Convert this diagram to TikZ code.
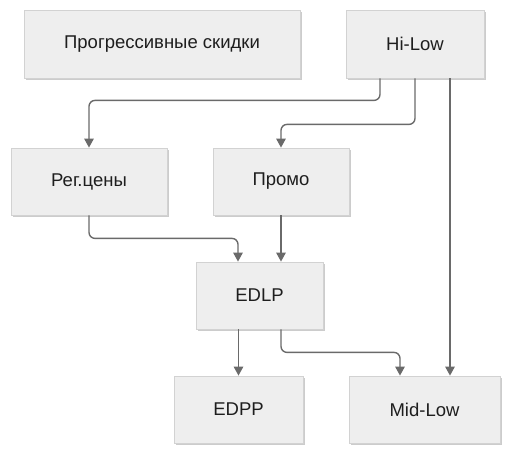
\documentclass[tikz,border=0pt]{standalone}
\usepackage{fontspec}
\setmainfont{Liberation Sans}
\usetikzlibrary{arrows.meta,shadows,calc}
\definecolor{boxfill}{HTML}{EEEEEE}
\definecolor{boxborder}{HTML}{D2D2D2}
\definecolor{lineclr}{HTML}{6A6A6A}
\definecolor{txt}{HTML}{1E1E1E}
\begin{document}
\begin{tikzpicture}[x=1pt,y=-1pt,
  box/.style={draw=boxborder,fill=boxfill,line width=0.8pt,inner sep=0pt,
    font=\fontsize{18.5}{22}\selectfont,text=txt,
    drop shadow={shadow xshift=1.5pt,shadow yshift=-2pt,opacity=0.2,fill=black}},
  conn/.style={draw=lineclr,line width=1.4pt,rounded corners=6pt,
    -{Triangle[length=9pt,width=9.5pt]}}]
\useasboundingbox (0,0) rectangle (512,456);
\node[box,minimum width=276pt,minimum height=68pt] (pg) at (162,44) {Прогрессивные скидки};
\node[box,minimum width=138pt,minimum height=68pt] (hl) at (415,44) {Hi-Low};
\node[box,minimum width=156pt,minimum height=67pt] (rc) at (89,181.5) {Рег.цены};
\node[box,minimum width=136pt,minimum height=67pt] (pr) at (281,181.5) {Промо};
\node[box,minimum width=127pt,minimum height=67pt] (ed) at (259.5,295.5) {EDLP};
\node[box,minimum width=129pt,minimum height=67pt] (ep) at (238.5,409.5) {EDPP};
\node[box,minimum width=151pt,minimum height=67pt] (ml) at (424.5,409.5) {Mid-Low};
\draw[conn] ([xshift=-35pt]hl.south) -- ++(0,22) -| (rc.north);
\draw[conn] (hl.south) -- ++(0,46) -| (pr.north);
\draw[conn] ([xshift=35pt]hl.south) -- ([xshift=25.5pt]ml.north);
\draw[conn] (rc.south) -- ++(0,23) -| ([xshift=-21.5pt]ed.north);
\draw[conn] (pr.south) -- ([xshift=21.5pt]ed.north);
\draw[conn] (ep.north |- ed.south) -- (ep.north);
\draw[conn] ([xshift=21.5pt]ed.south) -- ++(0,23) -| ([xshift=-24.5pt]ml.north);
\end{tikzpicture}
\end{document}
